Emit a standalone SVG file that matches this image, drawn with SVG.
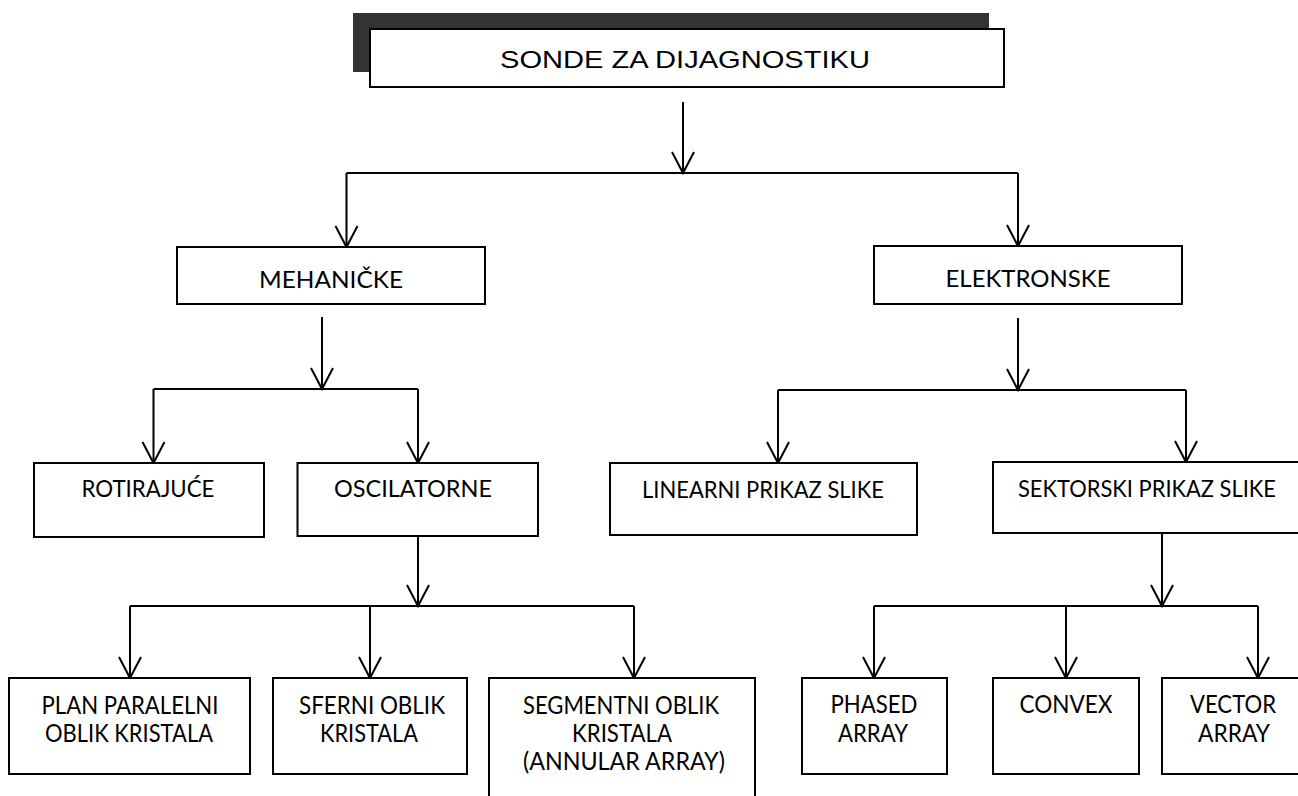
<svg xmlns="http://www.w3.org/2000/svg" width="1298" height="796" viewBox="0 0 1298 796">
<style>
.box{fill:#fff;stroke:#000;stroke-width:2}
.t{font-family:Lato,"Liberation Sans",Arial,sans-serif;font-size:24px;fill:#000;text-anchor:middle}
.tt{font-family:"Liberation Sans",Arial,sans-serif;font-size:24px}
.tb{font-size:25px}
.c{fill:none;stroke:#000;stroke-width:2}
</style>
<defs>
<marker id="v" markerUnits="userSpaceOnUse" orient="auto" refX="0" refY="0" markerWidth="30" markerHeight="30" overflow="visible">
<path d="M-21,-11 L0,0 L-21,11" fill="none" stroke="#000" stroke-width="2" stroke-linejoin="miter"/>
</marker>
</defs>
<rect width="1298" height="796" fill="#fff"/>
<g id="connectors">
<path class="c" d="M683,102 V173" marker-end="url(#v)"/>
<path class="c" d="M346.5,173 H1018"/>
<path class="c" d="M346.5,173 V247" marker-end="url(#v)"/>
<path class="c" d="M1018,173 V246" marker-end="url(#v)"/>
<path class="c" d="M322,317 V389" marker-end="url(#v)"/>
<path class="c" d="M153.5,389 H418"/>
<path class="c" d="M153.5,389 V463" marker-end="url(#v)"/>
<path class="c" d="M418,389 V463" marker-end="url(#v)"/>
<path class="c" d="M1018,318 V390" marker-end="url(#v)"/>
<path class="c" d="M778,390 H1186"/>
<path class="c" d="M778,390 V463" marker-end="url(#v)"/>
<path class="c" d="M1186,390 V462" marker-end="url(#v)"/>
<path class="c" d="M418,536 V606" marker-end="url(#v)"/>
<path class="c" d="M130,606 H634"/>
<path class="c" d="M130,606 V678" marker-end="url(#v)"/>
<path class="c" d="M370,606 V678" marker-end="url(#v)"/>
<path class="c" d="M634,606 V678" marker-end="url(#v)"/>
<path class="c" d="M1162,533 V606" marker-end="url(#v)"/>
<path class="c" d="M874,606 H1258"/>
<path class="c" d="M874,606 V678" marker-end="url(#v)"/>
<path class="c" d="M1066,606 V678" marker-end="url(#v)"/>
<path class="c" d="M1258,606 V678" marker-end="url(#v)"/>
</g>
<g id="root">
<rect x="353" y="13" width="636" height="59" fill="#333"/>
<rect class="box" x="370" y="29" width="634" height="58"/>
<text class="t tt" x="685" y="68" textLength="370" lengthAdjust="spacingAndGlyphs">SONDE ZA DIJAGNOSTIKU</text>
</g>
<g id="mehanicke">
<rect class="box" x="177" y="247" width="308" height="57"/>
<text class="t" x="331" y="288" textLength="144" lengthAdjust="spacingAndGlyphs">MEHANIČKE</text>
</g>
<g id="elektronske">
<rect class="box" x="874" y="246" width="308" height="58"/>
<text class="t" x="1028" y="287" textLength="165" lengthAdjust="spacingAndGlyphs">ELEKTRONSKE</text>
</g>
<g id="rotirajuce">
<rect class="box" x="34" y="463" width="230" height="74"/>
<text class="t" x="148" y="497" textLength="133" lengthAdjust="spacingAndGlyphs">ROTIRAJUĆE</text>
</g>
<g id="oscilatorne">
<rect class="box" x="297.5" y="463" width="240.5" height="73"/>
<text class="t" x="413" y="497" textLength="158" lengthAdjust="spacingAndGlyphs">OSCILATORNE</text>
</g>
<g id="linearni">
<rect class="box" x="610" y="463" width="307" height="72"/>
<text class="t" x="763" y="498" textLength="242" lengthAdjust="spacingAndGlyphs">LINEARNI PRIKAZ SLIKE</text>
</g>
<g id="sektorski">
<rect class="box" x="993" y="462" width="306.5" height="71"/>
<text class="t" x="1147" y="497" textLength="258" lengthAdjust="spacingAndGlyphs">SEKTORSKI PRIKAZ SLIKE</text>
</g>
<g id="plan">
<rect class="box" x="9" y="678" width="241" height="96"/>
<text class="t tb" x="130" y="714" textLength="177" lengthAdjust="spacingAndGlyphs">PLAN PARALELNI</text>
<text class="t tb" x="129" y="742" textLength="168" lengthAdjust="spacingAndGlyphs">OBLIK KRISTALA</text>
</g>
<g id="sferni">
<rect class="box" x="273" y="678" width="194" height="96"/>
<text class="t tb" x="372" y="714" textLength="146" lengthAdjust="spacingAndGlyphs">SFERNI OBLIK</text>
<text class="t tb" x="369" y="742" textLength="98" lengthAdjust="spacingAndGlyphs">KRISTALA</text>
</g>
<g id="segmentni">
<rect class="box" x="489" y="678" width="266" height="130"/>
<text class="t tb" x="621" y="714" textLength="196" lengthAdjust="spacingAndGlyphs">SEGMENTNI OBLIK</text>
<text class="t tb" x="622" y="742" textLength="100" lengthAdjust="spacingAndGlyphs">KRISTALA</text>
<text class="t tb" x="624" y="770" textLength="202" lengthAdjust="spacingAndGlyphs">(ANNULAR ARRAY)</text>
</g>
<g id="phased">
<rect class="box" x="802" y="678" width="145" height="96"/>
<text class="t tb" x="874" y="713" textLength="87" lengthAdjust="spacingAndGlyphs">PHASED</text>
<text class="t tb" x="873" y="742" textLength="70" lengthAdjust="spacingAndGlyphs">ARRAY</text>
</g>
<g id="convex">
<rect class="box" x="993" y="678" width="146" height="96"/>
<text class="t tb" x="1066" y="713" textLength="93" lengthAdjust="spacingAndGlyphs">CONVEX</text>
</g>
<g id="vector">
<rect class="box" x="1162" y="678" width="137.5" height="96"/>
<text class="t tb" x="1233" y="713" textLength="86" lengthAdjust="spacingAndGlyphs">VECTOR</text>
<text class="t tb" x="1234" y="742" textLength="72" lengthAdjust="spacingAndGlyphs">ARRAY</text>
</g>
</svg>
